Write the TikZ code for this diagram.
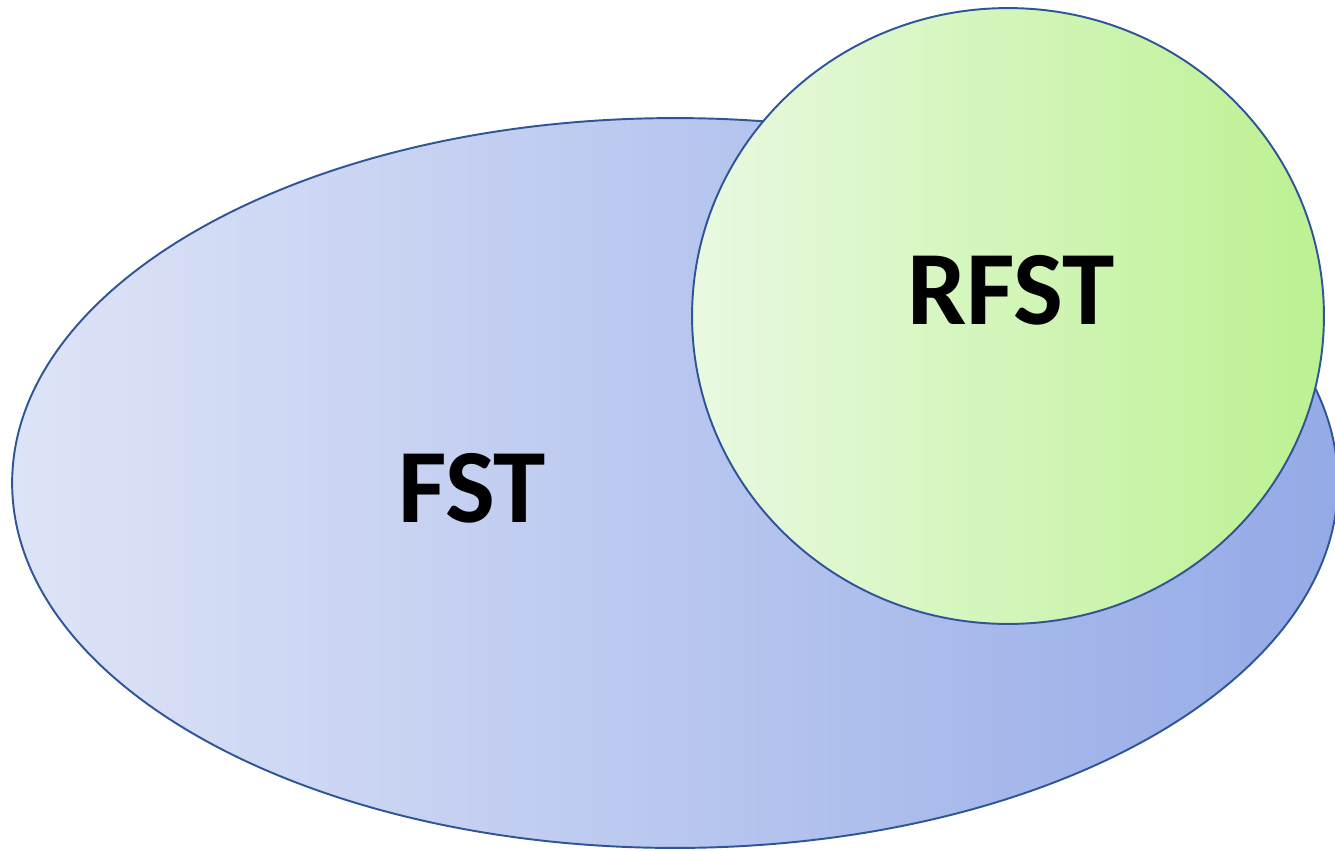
\documentclass[tikz,border=0pt]{standalone}
\usepackage{fontspec}
\setmainfont{Carlito}
\usepackage{tikz}
\usetikzlibrary{shapes.geometric}
\definecolor{rimblue}{HTML}{2F5597}
\definecolor{fstleft}{HTML}{DEE4F7}
\definecolor{fstright}{HTML}{94AAE7}
\definecolor{rfstleft}{HTML}{E9F9E1}
\definecolor{rfstright}{HTML}{BCF192}
\tikzstyle{setblob} = [ellipse, 
inner sep=0pt, 
draw=rimblue, 
line width=1.1pt]
\tikzstyle{setname} = [font=\fontsize{60}{60}\selectfont\bfseries, 
text=black, 
inner sep=0pt]

\begin{document}
\begin{tikzpicture}[x=0.02cm, y=-0.02cm]
		\useasboundingbox (0,0) rectangle (1335,850);
		\node (fst) [setblob, minimum width=26.52cm, minimum height=14.6cm, left color=fstleft, right color=fstright] at (675,483) {};
		\node (rfst) [setblob, minimum width=12.64cm, minimum height=12.32cm, left color=rfstleft, right color=rfstright] at (1008,316) {};
	
		\node (fstname) [setname] at (472,488) {FST};
		\node (rfstname) [setname] at (1011,290) {RFST};
	\end{tikzpicture}
\end{document}
